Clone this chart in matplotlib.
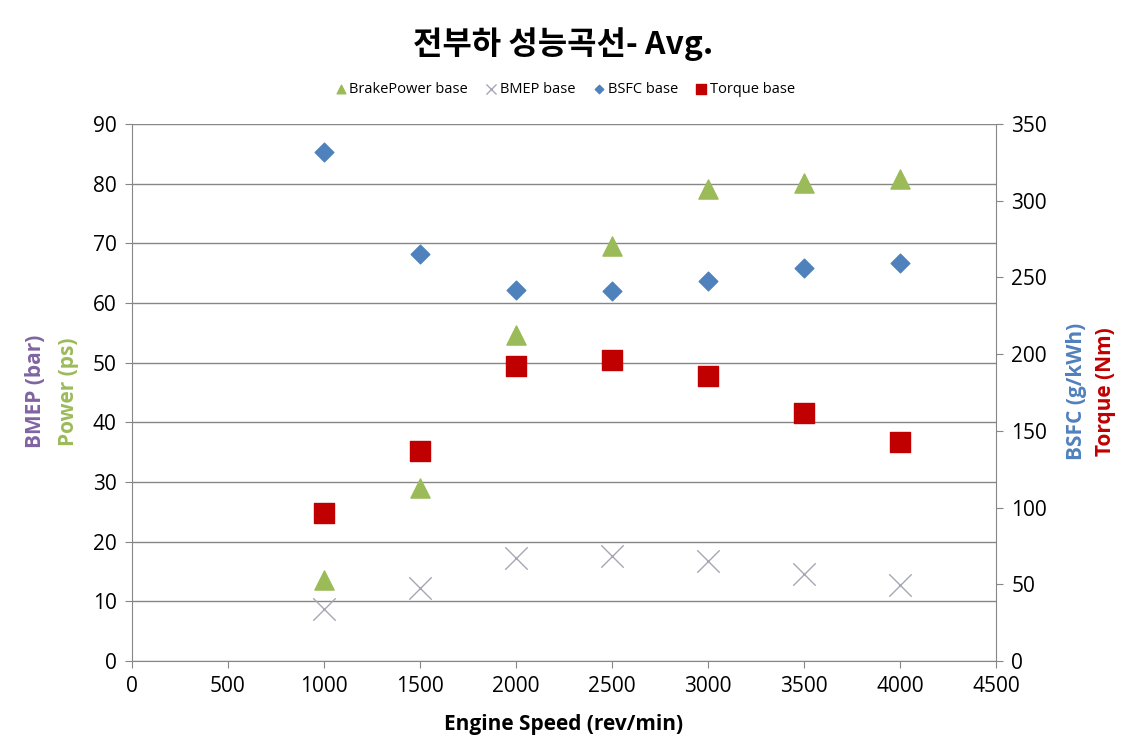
import matplotlib.pyplot as plt
import numpy as np

speed = [1000, 1500, 2000, 2500, 3000, 3500, 4000]
brake_power = [13.6, 29.0, 54.6, 69.5, 79.1, 80.1, 80.8]
bmep = [8.7, 12.2, 17.3, 17.6, 16.8, 14.6, 12.7]
bsfc = [331.5, 265.3, 241.8, 241.2, 247.7, 256.2, 259.5]
torque = [96.5, 136.9, 192.3, 196.2, 185.8, 161.7, 142.8]

plt.rcParams['font.family'] = ['Open Sans', 'DejaVu Sans']

fig = plt.figure(figsize=(11.34, 7.56), dpi=100)
ax = fig.add_axes([0.1164, 0.1257, 0.7619, 0.7103])
ax2 = ax.twinx()

grid_c = '#868686'
ax.set_xlim(0, 4500)
ax.set_ylim(0, 90)
ax2.set_ylim(0, 350)
ax.set_xticks(np.arange(0, 4501, 500))
ax.set_yticks(np.arange(0, 91, 10))
ax2.set_yticks(np.arange(0, 351, 50))
ax.yaxis.grid(True, color=grid_c, lw=1)
ax.set_axisbelow(True)

for a in (ax, ax2):
    for s in a.spines.values():
        s.set_visible(False)
    a.tick_params(labelsize=15, color=grid_c, length=5, pad=6)
ax.spines['left'].set_visible(True)
ax.spines['left'].set_color(grid_c)
ax.spines['bottom'].set_visible(True)
ax.spines['bottom'].set_color(grid_c)
ax2.spines['right'].set_visible(True)
ax2.spines['right'].set_color(grid_c)

h1 = ax.scatter(speed, brake_power, marker='^', s=190, color='#9BBB59', zorder=3, label='BrakePower base')
h2 = ax.scatter(speed, bmep, marker='x', s=260, color='#A6A6B4', linewidths=1.0, zorder=3, label='BMEP base')
h3 = ax2.scatter(speed, bsfc, marker='D', s=90, color='#4F81BD', zorder=3, label='BSFC base')
h4 = ax2.scatter(speed, torque, marker='s', s=220, color='#C00000', zorder=3, label='Torque base')

ax.set_xlabel('Engine Speed (rev/min)', fontsize=15, fontweight='bold', labelpad=12)

fig.text(0.031, 0.482, 'BMEP (bar)', rotation=90, fontsize=15, fontweight='bold',
         color='#8064A2', ha='center', va='center')
fig.text(0.060, 0.482, 'Power (ps)', rotation=90, fontsize=15, fontweight='bold',
         color='#9BBB59', ha='center', va='center')
fig.text(0.949, 0.482, 'BSFC (g/kWh)', rotation=90, fontsize=15, fontweight='bold',
         color='#4F81BD', ha='center', va='center')
fig.text(0.975, 0.482, 'Torque (Nm)', rotation=90, fontsize=15, fontweight='bold',
         color='#C00000', ha='center', va='center')

fig.text(0.497, 0.942, '전부하 성능곡선- Avg.', fontsize=23, fontweight='bold',
         family=['Noto Sans CJK KR', 'DejaVu Sans'], ha='center', va='center')

leg = fig.legend(handles=[h1, h2, h3, h4], loc='center', bbox_to_anchor=(0.497, 0.882),
                 ncol=4, frameon=False, fontsize=10.5, markerscale=0.45,
                 handletextpad=0.0, columnspacing=1.0, handlelength=1.2)

plt.savefig('out.png', dpi=100)
